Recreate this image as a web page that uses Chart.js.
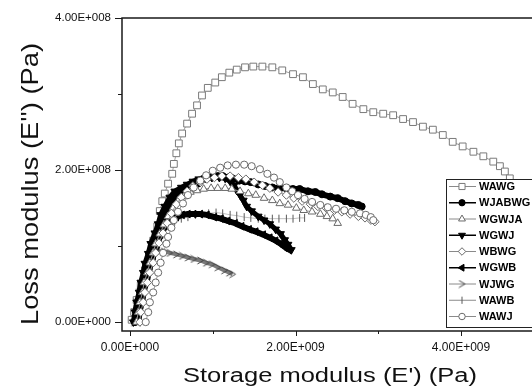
<!DOCTYPE html>
<html>
<head>
<meta charset="utf-8">
<script src="https://cdn.jsdelivr.net/npm/chart.js"></script>
<style>
  html, body { margin: 0; padding: 0; background: #fff; }
  #wrap { width: 532px; height: 389px; }
</style>
</head>
<body>
<div id="wrap"><canvas id="dma" width="532" height="389"></canvas></div>
<script>
// storage modulus E' in 1e9 Pa, loss modulus E'' in 1e8 Pa
const wawgE1 = [0.02,0.05,0.08,0.13,0.18,0.23,0.28,0.33,0.36,0.39,0.42,0.46,0.51,0.53,0.56,0.59,0.63,0.69,0.75,0.81,0.87,0.94,1.03,1.11,1.20,1.29,1.39,1.49,1.60,1.72,1.84,1.97,2.09,2.21,2.33,2.45,2.57,2.69,2.82,2.94,3.06,3.18,3.30,3.42,3.54,3.66,3.78,3.90,4.02,4.15,4.27,4.39,4.47,4.53,4.59];
const wawgE2 = [0.03,0.13,0.29,0.48,0.68,0.87,1.07,1.26,1.46,1.59,1.69,1.82,1.95,2.08,2.22,2.35,2.48,2.61,2.74,2.85,2.98,3.08,3.15,3.22,3.28,3.32,3.35,3.36,3.36,3.35,3.31,3.26,3.22,3.13,3.06,3.02,2.96,2.87,2.80,2.76,2.74,2.72,2.67,2.63,2.57,2.53,2.46,2.37,2.31,2.24,2.18,2.11,2.05,1.98,1.89];

const wjabwgE1 = [0.06,0.08,0.11,0.13,0.16,0.19,0.22,0.25,0.28,0.31,0.35,0.39,0.44,0.48,0.53,0.58,0.64,0.70,0.76,0.82,0.88,0.94,1.00,1.06,1.12,1.18,1.24,1.32,1.39,1.46,1.55,1.63,1.72,1.80,1.89,1.97,2.05,2.15,2.24,2.32,2.42,2.51,2.60,2.68,2.76,2.80];
const wjabwgE2 = [0,0.16,0.29,0.42,0.55,0.68,0.81,0.94,1.04,1.16,1.26,1.37,1.46,1.54,1.62,1.67,1.72,1.76,1.80,1.82,1.88,1.90,1.92,1.92,1.92,1.90,1.89,1.86,1.85,1.84,1.81,1.79,1.77,1.76,1.76,1.75,1.75,1.72,1.71,1.68,1.65,1.63,1.59,1.56,1.54,1.52];

const wgwjaE1 = [0.08,0.10,0.12,0.15,0.17,0.21,0.24,0.28,0.31,0.36,0.41,0.46,0.52,0.58,0.65,0.73,0.81,0.89,0.98,1.06,1.15,1.23,1.33,1.43,1.52,1.62,1.72,1.81,1.91,2.01,2.10,2.20,2.30,2.38,2.45,2.51];
const wgwjaE2 = [0,0.13,0.26,0.39,0.52,0.65,0.78,0.91,1.03,1.16,1.28,1.39,1.50,1.59,1.65,1.71,1.73,1.75,1.76,1.76,1.76,1.75,1.72,1.69,1.67,1.63,1.60,1.56,1.54,1.50,1.47,1.45,1.42,1.39,1.36,1.30];

const wgwjE1 = [0.04,0.06,0.08,0.11,0.13,0.16,0.18,0.22,0.25,0.30,0.34,0.37,0.42,0.48,0.54,0.62,0.69,0.76,0.83,0.91,0.99,1.08,1.15,1.21,1.26,1.29,1.33,1.37,1.41,1.47,1.55,1.62,1.69,1.76,1.82,1.87,1.91,1.95];
const wgwjE2 = [0,0.13,0.26,0.39,0.52,0.65,0.77,0.90,1.03,1.17,1.29,1.41,1.52,1.64,1.72,1.77,1.81,1.85,1.88,1.89,1.90,1.90,1.89,1.85,1.80,1.73,1.67,1.60,1.52,1.46,1.39,1.34,1.29,1.22,1.16,1.08,1.02,0.95];

const wbwgE1 = [0.12,0.13,0.16,0.18,0.21,0.24,0.28,0.31,0.35,0.40,0.45,0.50,0.56,0.62,0.69,0.76,0.85,0.93,1.02,1.11,1.21,1.31,1.40,1.50,1.60,1.69,1.79,1.89,1.98,2.08,2.18,2.27,2.37,2.47,2.56,2.66,2.76,2.84,2.91,2.96];
const wbwgE2 = [0,0.13,0.26,0.39,0.52,0.65,0.78,0.91,1.04,1.17,1.30,1.43,1.55,1.64,1.72,1.79,1.84,1.88,1.90,1.92,1.92,1.90,1.88,1.84,1.80,1.76,1.71,1.67,1.63,1.59,1.55,1.52,1.50,1.47,1.45,1.42,1.39,1.37,1.34,1.32];

const wgwbE1 = [0.10,0.12,0.15,0.17,0.21,0.24,0.28,0.33,0.37,0.42,0.48,0.56,0.63,0.70,0.77,0.85,0.93,1.02,1.10,1.18,1.27,1.35,1.44,1.52,1.61,1.69,1.76,1.82,1.87,1.92];
const wgwbE2 = [0,0.16,0.29,0.42,0.57,0.73,0.87,1.02,1.15,1.26,1.34,1.38,1.41,1.42,1.42,1.42,1.41,1.38,1.36,1.33,1.30,1.26,1.22,1.19,1.15,1.11,1.07,1.03,0.99,0.95];

const wjwgE1 = [0.05,0.06,0.08,0.11,0.13,0.17,0.21,0.24,0.29,0.35,0.41,0.48,0.56,0.63,0.70,0.77,0.85,0.92,0.99,1.06,1.14,1.20,1.24];
const wjwgE2 = [0,0.13,0.26,0.39,0.51,0.63,0.73,0.82,0.89,0.93,0.93,0.91,0.89,0.87,0.85,0.83,0.81,0.78,0.76,0.72,0.68,0.65,0.63];

const wawbE1 = [0.07,0.10,0.12,0.15,0.18,0.22,0.25,0.30,0.35,0.41,0.47,0.54,0.62,0.70,0.79,0.87,0.95,1.04,1.12,1.21,1.29,1.38,1.46,1.55,1.63,1.72,1.80,1.89,1.97,2.05,2.11];
const wawbE2 = [0,0.13,0.26,0.39,0.53,0.68,0.81,0.94,1.07,1.17,1.25,1.32,1.36,1.38,1.41,1.42,1.43,1.44,1.43,1.41,1.40,1.38,1.37,1.36,1.36,1.36,1.36,1.36,1.36,1.37,1.37];

const wawjE1 = [0.19,0.22,0.24,0.28,0.31,0.34,0.37,0.40,0.44,0.46,0.50,0.53,0.58,0.64,0.70,0.77,0.85,0.92,1.00,1.09,1.18,1.28,1.38,1.47,1.57,1.66,1.74,1.81,1.89,1.96,2.03,2.11,2.20,2.30,2.39,2.49,2.59,2.68,2.78,2.85,2.91,2.94];
const wawjE2 = [0,0.13,0.26,0.39,0.52,0.65,0.78,0.91,1.03,1.12,1.24,1.34,1.45,1.56,1.67,1.77,1.86,1.93,1.99,2.03,2.06,2.07,2.07,2.05,2.01,1.95,1.90,1.84,1.77,1.72,1.67,1.62,1.58,1.54,1.51,1.49,1.47,1.45,1.43,1.41,1.38,1.34];

const seriesNames = ['WAWG', 'WJABWG', 'WGWJA', 'WGWJ', 'WBWG', 'WGWB', 'WJWG', 'WAWB', 'WAWJ'];
const seriesE1 = [wawgE1, wjabwgE1, wgwjaE1, wgwjE1, wbwgE1, wgwbE1, wjwgE1, wawbE1, wawjE1];
const seriesE2 = [wawgE2, wjabwgE2, wgwjaE2, wgwjE2, wbwgE2, wgwbE2, wjwgE2, wawbE2, wawjE2];

const xTickValues = [0, 2e9, 4e9];
const xMinorValues = [1e9, 3e9];
const yTickValues = [0, 2e8, 4e8];
const yMinorValues = [1e8, 3e8];

const xTitle = "Storage modulus (E') (Pa)";
const yTitle = "Loss modulus (E'') (Pa)";

// open ">" marker for WJWG
function chevron(color) {
  const c = document.createElement('canvas');
  c.width = 9; c.height = 9;
  const g = c.getContext('2d');
  g.strokeStyle = color;
  g.lineWidth = 1;
  g.beginPath();
  g.moveTo(1.5, 1); g.lineTo(7.5, 4.5); g.lineTo(1.5, 8);
  g.stroke();
  return c;
}

const GREY = '#6a6a6a';
const looks = {
  WAWG:   { shape: 'rect',     rot: 0,   r: 4.8, fill: '#fff', edge: '#7a7a7a', line: '#a0a0a0', lw: 1,   order: 9 },
  WJABWG: { shape: 'circle',   rot: 0,   r: 3.5, fill: '#000', edge: '#000',    line: '#000',    lw: 6,   order: 4 },
  WGWJA:  { shape: 'triangle', rot: 0,   r: 4.4, fill: '#fff', edge: GREY,      line: '#9a9a9a', lw: 1,   order: 3 },
  WGWJ:   { shape: 'triangle', rot: 180, r: 4.4, fill: '#000', edge: '#000',    line: '#000',    lw: 5,   order: 5 },
  WBWG:   { shape: 'rectRot',  rot: 0,   r: 4.2, fill: '#fff', edge: GREY,      line: '#9a9a9a', lw: 1,   order: 2 },
  WGWB:   { shape: 'triangle', rot: -90, r: 4.4, fill: '#000', edge: '#000',    line: '#000',    lw: 6,   order: 6 },
  WJWG:   { shape: chevron('#444'), rot: 0, r: 4, fill: '#fff', edge: '#444',  line: '#7a7a7a', lw: 4,   order: 8 },
  WAWB:   { shape: 'line',     rot: 90,  r: 4,   fill: '#fff', edge: '#5a5a5a', line: '#c0c0c0', lw: 1,   order: 7 },
  WAWJ:   { shape: 'circle',   rot: 0,   r: 3.6, fill: '#fff', edge: GREY,      line: '#9a9a9a', lw: 1,   order: 1 }
};

function sci(v) {
  if (v === 0) return '0.00E+000';
  const parts = v.toExponential(2).split('e');
  const n = parseInt(parts[1], 10);
  return parts[0] + 'E' + (n < 0 ? '-' : '+') + String(Math.abs(n)).padStart(3, '0');
}

const datasets = seriesNames.map((name, i) => {
  const lk = looks[name];
  return {
    label: name,
    data: seriesE1[i].map((x, k) => ({ x: x * 1e9, y: seriesE2[i][k] * 1e8 })),
    showLine: true,
    borderColor: lk.line,
    borderWidth: lk.lw,
    pointStyle: lk.shape,
    pointRotation: lk.rot,
    pointRadius: lk.r,
    pointBackgroundColor: lk.fill,
    pointBorderColor: lk.edge,
    pointBorderWidth: 1,
    order: lk.order
  };
});

const framePlugin = {
  id: 'frame',
  afterDatasetsDraw(chart) {
    const { ctx, chartArea: a, scales } = chart;
    const xs = scales.x, ys = scales.y;
    ctx.save();
    ctx.strokeStyle = '#1a1a1a';
    ctx.lineWidth = 1.5;
    ctx.beginPath();
    ctx.moveTo(a.right + 5, a.top);
    ctx.lineTo(a.left, a.top);
    ctx.lineTo(a.left, a.bottom);
    ctx.lineTo(a.right + 5, a.bottom);
    ctx.stroke();
    ctx.lineWidth = 1;
    ctx.beginPath();
    xTickValues.forEach(v => { const p = Math.round(xs.getPixelForValue(v)) + 0.5; ctx.moveTo(p, a.bottom); ctx.lineTo(p, a.bottom + 5); });
    xMinorValues.forEach(v => { const p = Math.round(xs.getPixelForValue(v)) + 0.5; ctx.moveTo(p, a.bottom); ctx.lineTo(p, a.bottom + 3); });
    yTickValues.forEach(v => { const p = Math.round(ys.getPixelForValue(v)) + 0.5; ctx.moveTo(a.left - 7, p); ctx.lineTo(a.left, p); });
    yMinorValues.forEach(v => { const p = Math.round(ys.getPixelForValue(v)) + 0.5; ctx.moveTo(a.left - 4, p); ctx.lineTo(a.left, p); });
    ctx.stroke();
    ctx.restore();
  },
  afterDraw(chart) {
    const ctx = chart.ctx;
    ctx.save();
    ctx.fillStyle = '#111';
    ctx.textAlign = 'center';
    ctx.textBaseline = 'alphabetic';

    // axis titles, stretched to the width they have in the figure
    ctx.font = '20px Arial, "Liberation Sans", sans-serif';
    let w = ctx.measureText(xTitle).width;
    ctx.save();
    ctx.translate(330, 382);
    ctx.scale(294 / w, 1);
    ctx.fillText(xTitle, 0, 0);
    ctx.restore();

    ctx.font = '24px Arial, "Liberation Sans", sans-serif';
    w = ctx.measureText(yTitle).width;
    ctx.save();
    ctx.translate(38, 184);
    ctx.rotate(-Math.PI / 2);
    ctx.scale(282 / w, 1);
    ctx.fillText(yTitle, 0, 0);
    ctx.restore();

    // legend box
    const left = 446, top = 179, bottom = 327;
    ctx.fillStyle = '#fff';
    ctx.fillRect(left, top, 100, bottom - top);
    ctx.strokeStyle = '#222';
    ctx.lineWidth = 1;
    ctx.strokeRect(left + 0.5, top + 0.5, 100, bottom - top);

    ctx.font = 'bold 11px Arial, "Liberation Sans", sans-serif';
    ctx.textAlign = 'left';
    ctx.textBaseline = 'middle';
    seriesNames.forEach((name, i) => {
      const lk = looks[name];
      const y = 186.5 + i * 16.25;
      ctx.strokeStyle = lk.fill === '#000' ? '#000' : '#8a8a8a';
      ctx.lineWidth = lk.fill === '#000' ? 1.5 : 1;
      ctx.beginPath();
      ctx.moveTo(449, y); ctx.lineTo(476, y);
      ctx.stroke();
      ctx.fillStyle = lk.fill;
      ctx.strokeStyle = lk.edge;
      ctx.lineWidth = 1;
      Chart.helpers.drawPoint(ctx, { pointStyle: lk.shape, rotation: lk.rot, radius: lk.r * 0.9, borderWidth: 1 }, 462, y);
      ctx.fillStyle = '#000';
      ctx.fillText(name, 479, y + 0.5);
    });
    ctx.restore();
  }
};

new Chart(document.getElementById('dma'), {
  type: 'scatter',
  data: { datasets: datasets },
  plugins: [framePlugin],
  options: {
    responsive: false,
    animation: false,
    devicePixelRatio: 1,
    layout: { padding: { top: 15, left: 0, right: 0, bottom: 0 }, autoPadding: false },
    plugins: { legend: { display: false }, tooltip: { enabled: false } },
    scales: {
      x: {
        type: 'linear',
        min: -0.0967e9,
        max: 4.858e9,
        afterBuildTicks: s => { s.ticks = xTickValues.map(v => ({ value: v })); },
        afterFit: s => { s.height = 58; },
        grid: { display: false, drawTicks: false },
        border: { display: false },
        ticks: {
          callback: v => sci(v),
          font: { family: 'Arial', size: 12 },
          color: '#111',
          padding: 9,
          maxRotation: 0,
          autoSkip: false
        }
      },
      y: {
        type: 'linear',
        min: -0.1173e8,
        max: 4.0e8,
        afterBuildTicks: s => { s.ticks = yTickValues.map(v => ({ value: v })); },
        afterFit: s => { s.width = 122; },
        grid: { display: false, drawTicks: false },
        border: { display: false },
        ticks: {
          callback: v => sci(v),
          font: { family: 'Arial', size: 11.5 },
          color: '#111',
          padding: 11,
          autoSkip: false
        }
      }
    }
  }
});
</script>
</body>
</html>
